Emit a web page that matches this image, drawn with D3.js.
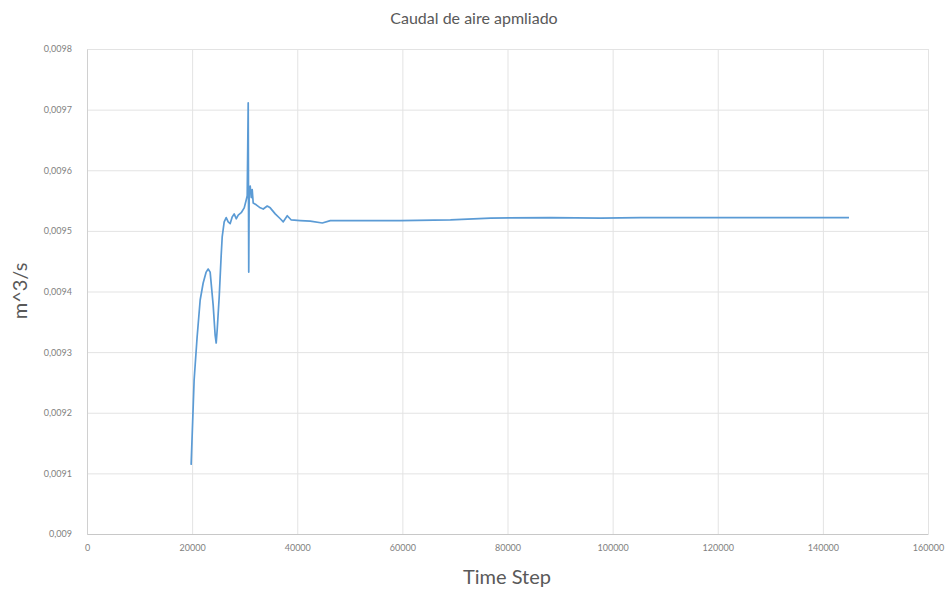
<!DOCTYPE html>
<html>
<head>
<meta charset="utf-8">
<script src="https://cdn.jsdelivr.net/npm/d3@7"></script>
<style>
  html, body { margin: 0; padding: 0; background: #fff; }
  svg { display: block; font-family: Lato, "Open Sans", "Liberation Sans", sans-serif; }
</style>
</head>
<body>
<svg id="chart" width="947" height="589"></svg>
<script>
const chartTitle = "Caudal de aire apmliado";
const xAxisTitle = "Time Step";
const yAxisTitle = "m^3/s";

const xTicks = [0, 20000, 40000, 60000, 80000, 100000, 120000, 140000, 160000];
const yTicks = [0.009, 0.0091, 0.0092, 0.0093, 0.0094, 0.0095, 0.0096, 0.0097, 0.0098];

const timeSteps = [
  19810, 20380, 20950, 21530, 22100, 22670, 23050, 23430, 24000, 24380,
  24580, 24770, 25150, 25530, 25720, 26100, 26480, 26860, 27240, 27620,
  28000, 28390, 28770, 29340, 29910, 30290, 30480, 30670, 30770, 30860,
  31050, 31240, 31430, 31620, 32200, 32960, 33530, 34290, 34860, 35810,
  36770, 37340, 38100, 38860, 40580, 42480, 44770, 46290, 50100, 59630,
  69150, 76770, 88200, 97730, 105350, 116780, 135830, 144970
];
const airFlow = [
  0.009114, 0.009254, 0.009325, 0.009386, 0.009414, 0.009432, 0.009437, 0.009432, 0.009378, 0.009328,
  0.009315, 0.009337, 0.009391, 0.009460, 0.009490, 0.009515, 0.009522, 0.009515, 0.009512, 0.009523,
  0.009528, 0.009520, 0.009526, 0.009530, 0.009538, 0.009551, 0.009558, 0.009711, 0.009432, 0.009568,
  0.009574, 0.009555, 0.009568, 0.009546, 0.009543, 0.009538, 0.009536, 0.009541, 0.009538, 0.009528,
  0.009520, 0.009515, 0.009525, 0.009518, 0.009517, 0.009516, 0.009513, 0.009517, 0.009517, 0.009517,
  0.009518, 0.009521, 0.009522, 0.009521, 0.009522, 0.009522, 0.009522, 0.009522
];

const data = timeSteps.map((t, i) => ({ t, v: airFlow[i] }));

const svg = d3.select("#chart");
const margin = { left: 87, right: 947 - 928, top: 49, bottom: 589 - 534 };
const W = 947, H = 589;

const x = d3.scaleLinear().domain([0, 160000]).range([margin.left, W - margin.right]);
const y = d3.scaleLinear().domain([0.009, 0.0098]).range([H - margin.bottom, margin.top]);

const fmtY = d => d3.format(".4~f")(d).replace(".", ",");

// horizontal gridlines
svg.append("g")
  .attr("transform", `translate(${margin.left},0)`)
  .call(d3.axisLeft(y).tickValues(yTicks).tickSize(-(W - margin.left - margin.right)).tickFormat(""))
  .call(g => g.select(".domain").remove())
  .call(g => g.selectAll("line").attr("stroke", "#e3e3e3").attr("stroke-width", 1));

// vertical gridlines
svg.append("g")
  .attr("transform", `translate(0,${margin.top})`)
  .call(d3.axisTop(x).tickValues(xTicks).tickSize(-(H - margin.top - margin.bottom)).tickFormat(""))
  .call(g => g.select(".domain").remove())
  .call(g => g.selectAll("line").attr("stroke", "#e3e3e3").attr("stroke-width", 1));

// y axis labels
svg.append("g")
  .attr("transform", `translate(${margin.left},0)`)
  .call(d3.axisLeft(y).tickValues(yTicks).tickSize(0).tickPadding(15).tickFormat(fmtY))
  .call(g => g.select(".domain").attr("stroke", "#d0d0d0"))
  .call(g => g.selectAll("text").attr("fill", "#7f7f7f").attr("font-size", 9).attr("font-family", "Lato, sans-serif"));

// x axis
svg.append("g")
  .attr("transform", `translate(0,${H - margin.bottom})`)
  .call(d3.axisBottom(x).tickValues(xTicks).tickSize(0).tickPadding(11).tickFormat(d3.format("d")))
  .call(g => g.select(".domain").attr("stroke", "#c8c8c8"))
  .call(g => g.selectAll("text").attr("fill", "#7f7f7f").attr("font-size", 9).attr("font-family", "Lato, sans-serif"));

// line
svg.append("path")
  .datum(data)
  .attr("fill", "none")
  .attr("stroke", "#5b9bd5")
  .attr("stroke-width", 1.7)
  .attr("stroke-linejoin", "round")
  .attr("d", d3.line().x(d => x(d.t)).y(d => y(d.v)));

// title
svg.append("text")
  .attr("x", 474).attr("y", 24)
  .attr("text-anchor", "middle")
  .attr("fill", "#595959")
  .attr("font-size", 16)
  .text(chartTitle);

// axis titles
svg.append("text")
  .attr("x", 507).attr("y", 584)
  .attr("text-anchor", "middle")
  .attr("fill", "#595959")
  .attr("font-size", 20)
  .text(xAxisTitle);

svg.append("text")
  .attr("transform", "translate(27,291) rotate(-90)")
  .attr("text-anchor", "middle")
  .attr("fill", "#595959")
  .attr("font-size", 20)
  .text(yAxisTitle);
</script>
</body>
</html>
